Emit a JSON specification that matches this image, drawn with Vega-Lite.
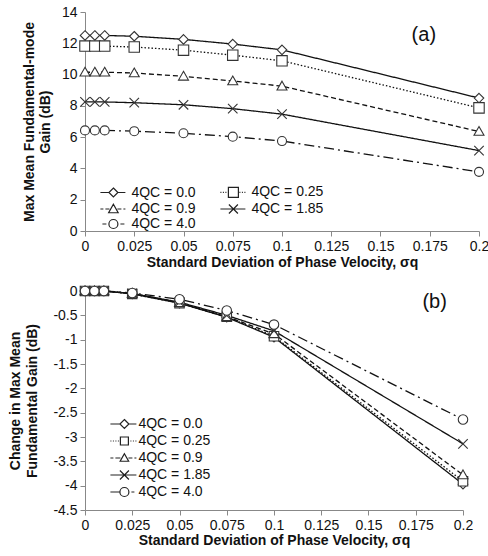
{
  "$schema": "https://vega.github.io/schema/vega-lite/v6.json",
  "padding": {"left": 8, "top": 5, "right": 0, "bottom": 5},
  "config": {
    "font": "Liberation Sans",
    "view": {"stroke": null},
    "axis": {"domainColor": "#888", "tickColor": "#888", "labelColor": "#111", "labelFontSize": 14, "titleFontSize": 14, "titleFontWeight": "bold", "titleColor": "#111", "grid": false, "tickSize": 5, "labelPadding": 3, "labelOverlap": false, "labelFlush": false, "labelBound": false},
    "legend": {"labelFontSize": 14, "labelColor": "#111", "symbolSize": 100, "symbolStrokeWidth": 1.2, "symbolStrokeColor": "#222", "symbolFillColor": "transparent", "padding": 0, "title": null}
  },
  "datasets": {
    "top": [
      {"series": "4QC = 0.0", "x": 0, "y": 12.5}, {"series": "4QC = 0.0", "x": 0.005, "y": 12.5}, {"series": "4QC = 0.0", "x": 0.01, "y": 12.5}, {"series": "4QC = 0.0", "x": 0.025, "y": 12.45}, {"series": "4QC = 0.0", "x": 0.05, "y": 12.25}, {"series": "4QC = 0.0", "x": 0.075, "y": 11.95}, {"series": "4QC = 0.0", "x": 0.1, "y": 11.58}, {"series": "4QC = 0.0", "x": 0.2, "y": 8.5},
      {"series": "4QC = 0.25", "x": 0, "y": 11.82}, {"series": "4QC = 0.25", "x": 0.005, "y": 11.82}, {"series": "4QC = 0.25", "x": 0.01, "y": 11.82}, {"series": "4QC = 0.25", "x": 0.025, "y": 11.76}, {"series": "4QC = 0.25", "x": 0.05, "y": 11.56}, {"series": "4QC = 0.25", "x": 0.075, "y": 11.24}, {"series": "4QC = 0.25", "x": 0.1, "y": 10.88}, {"series": "4QC = 0.25", "x": 0.2, "y": 7.87},
      {"series": "4QC = 0.9", "x": 0, "y": 10.15}, {"series": "4QC = 0.9", "x": 0.005, "y": 10.15}, {"series": "4QC = 0.9", "x": 0.01, "y": 10.15}, {"series": "4QC = 0.9", "x": 0.025, "y": 10.1}, {"series": "4QC = 0.9", "x": 0.05, "y": 9.89}, {"series": "4QC = 0.9", "x": 0.075, "y": 9.59}, {"series": "4QC = 0.9", "x": 0.1, "y": 9.26}, {"series": "4QC = 0.9", "x": 0.2, "y": 6.36},
      {"series": "4QC = 1.85", "x": 0, "y": 8.25}, {"series": "4QC = 1.85", "x": 0.005, "y": 8.25}, {"series": "4QC = 1.85", "x": 0.01, "y": 8.25}, {"series": "4QC = 1.85", "x": 0.025, "y": 8.2}, {"series": "4QC = 1.85", "x": 0.05, "y": 8.07}, {"series": "4QC = 1.85", "x": 0.075, "y": 7.82}, {"series": "4QC = 1.85", "x": 0.1, "y": 7.47}, {"series": "4QC = 1.85", "x": 0.2, "y": 5.14},
      {"series": "4QC = 4.0", "x": 0, "y": 6.43}, {"series": "4QC = 4.0", "x": 0.005, "y": 6.43}, {"series": "4QC = 4.0", "x": 0.01, "y": 6.43}, {"series": "4QC = 4.0", "x": 0.025, "y": 6.38}, {"series": "4QC = 4.0", "x": 0.05, "y": 6.25}, {"series": "4QC = 4.0", "x": 0.075, "y": 6.03}, {"series": "4QC = 4.0", "x": 0.1, "y": 5.75}, {"series": "4QC = 4.0", "x": 0.2, "y": 3.78}
    ],
    "bottom": [
      {"series": "4QC = 0.0", "x": 0, "y": 0}, {"series": "4QC = 0.0", "x": 0.005, "y": 0}, {"series": "4QC = 0.0", "x": 0.01, "y": 0}, {"series": "4QC = 0.0", "x": 0.025, "y": -0.06}, {"series": "4QC = 0.0", "x": 0.05, "y": -0.25}, {"series": "4QC = 0.0", "x": 0.075, "y": -0.54}, {"series": "4QC = 0.0", "x": 0.1, "y": -0.95}, {"series": "4QC = 0.0", "x": 0.2, "y": -3.97},
      {"series": "4QC = 0.25", "x": 0, "y": 0}, {"series": "4QC = 0.25", "x": 0.005, "y": 0}, {"series": "4QC = 0.25", "x": 0.01, "y": 0}, {"series": "4QC = 0.25", "x": 0.025, "y": -0.06}, {"series": "4QC = 0.25", "x": 0.05, "y": -0.25}, {"series": "4QC = 0.25", "x": 0.075, "y": -0.53}, {"series": "4QC = 0.25", "x": 0.1, "y": -0.93}, {"series": "4QC = 0.25", "x": 0.2, "y": -3.91},
      {"series": "4QC = 0.9", "x": 0, "y": 0}, {"series": "4QC = 0.9", "x": 0.005, "y": 0}, {"series": "4QC = 0.9", "x": 0.01, "y": 0}, {"series": "4QC = 0.9", "x": 0.025, "y": -0.05}, {"series": "4QC = 0.9", "x": 0.05, "y": -0.24}, {"series": "4QC = 0.9", "x": 0.075, "y": -0.53}, {"series": "4QC = 0.9", "x": 0.1, "y": -0.88}, {"series": "4QC = 0.9", "x": 0.2, "y": -3.78},
      {"series": "4QC = 1.85", "x": 0, "y": 0}, {"series": "4QC = 1.85", "x": 0.005, "y": 0}, {"series": "4QC = 1.85", "x": 0.01, "y": 0}, {"series": "4QC = 1.85", "x": 0.025, "y": -0.05}, {"series": "4QC = 1.85", "x": 0.05, "y": -0.23}, {"series": "4QC = 1.85", "x": 0.075, "y": -0.5}, {"series": "4QC = 1.85", "x": 0.1, "y": -0.82}, {"series": "4QC = 1.85", "x": 0.2, "y": -3.14},
      {"series": "4QC = 4.0", "x": 0, "y": 0}, {"series": "4QC = 4.0", "x": 0.005, "y": 0}, {"series": "4QC = 4.0", "x": 0.01, "y": 0}, {"series": "4QC = 4.0", "x": 0.025, "y": -0.04}, {"series": "4QC = 4.0", "x": 0.05, "y": -0.17}, {"series": "4QC = 4.0", "x": 0.075, "y": -0.4}, {"series": "4QC = 4.0", "x": 0.1, "y": -0.69}, {"series": "4QC = 4.0", "x": 0.2, "y": -2.64}
    ]
  },
  "spacing": 14,
  "vconcat": [
    {
      "width": 394,
      "height": 219,
      "data": {"name": "top"},
      "layer": [
        {
          "mark": {"type": "line", "color": "#111", "strokeWidth": 1.3},
          "encoding": {
            "x": {"field": "x", "type": "quantitative", "scale": {"domain": [0, 0.2]}, "axis": {"values": [0, 0.025, 0.05, 0.075, 0.1, 0.125, 0.15, 0.175, 0.2], "tickCount": 20, "labelExpr": "'' + datum.value", "labelOverlap": false, "titlePadding": 2, "title": "Standard Deviation of Phase Velocity, σq"}},
            "y": {"field": "y", "type": "quantitative", "scale": {"domain": [0, 14]}, "axis": {"values": [0, 2, 4, 6, 8, 10, 12, 14], "tickCount": 20, "labelExpr": "'' + datum.value", "labelOverlap": false, "title": ["Max Mean Fundamental-mode", "Gain (dB)"], "titleLineHeight": 16, "titlePadding": 9}},
            "detail": {"field": "series"},
            "strokeDash": {"field": "series", "type": "nominal", "scale": {"domain": ["4QC = 0.0", "4QC = 0.25", "4QC = 0.9", "4QC = 1.85", "4QC = 4.0"], "range": [[1, 0], [1.5, 2], [5, 3], [1, 0], [10, 4, 2, 4]]}, "legend": null}
          }
        },
        {
          "mark": {"type": "point", "filled": true, "fill": "white", "stroke": "#333", "strokeWidth": 1.1, "size": 90, "opacity": 1},
          "encoding": {
            "x": {"field": "x", "type": "quantitative"},
            "y": {"field": "y", "type": "quantitative"},
            "shape": {"field": "series", "type": "nominal", "scale": {"domain": ["4QC = 0.0", "4QC = 0.25", "4QC = 0.9", "4QC = 1.85", "4QC = 4.0"], "range": ["M0,-1L1,0L0,1L-1,0Z", "M-1.1,-1.1L1.1,-1.1L1.1,1.1L-1.1,1.1Z", "M0,-1.05L1.05,0.8L-1.05,0.8Z", "M-1,-1L1,1M-1,1L1,-1", "M-0.95,0A0.95,0.95,0,1,1,0.95,0A0.95,0.95,0,1,1,-0.95,0Z"]}, "legend": null}
          }
        },
        {
          "transform": [{"filter": "datum.x < 0"}],
          "mark": {"type": "point", "filled": false, "stroke": "#222", "strokeWidth": 1.2, "opacity": 1},
          "encoding": {
            "x": {"field": "x", "type": "quantitative"},
            "y": {"field": "y", "type": "quantitative"},
            "shape": {"field": "series", "type": "nominal", "scale": {"domain": ["4QC = 0.0", "4QC = 0.9", "4QC = 4.0", "4QC = 0.25", "4QC = 1.85"], "range": [
              "M-2.6,0L-0.9,0M0.9,0L2.4,0M0,-0.9L0.9,0L0,0.9L-0.9,0Z",
              "M-2.6,0L-2,0M-1.6,0L-0.8,0M0.8,0L1.6,0M2,0L2.4,0M0,-0.95L0.95,0.75L-0.95,0.75Z",
              "M-2.2,0L-1.4,0M1.4,0L2.2,0M-0.9,0A0.9,0.9,0,1,1,0.9,0A0.9,0.9,0,1,1,-0.9,0Z",
              "M-2.6,0L-2.4,0M-2.1,0L-1.9,0M-1.6,0L-1.4,0M1.2,0L1.4,0M1.7,0L1.9,0M2.2,0L2.4,0M-1,-1L1,-1L1,1L-1,1Z",
              "M-2.6,0L2.4,0M-0.9,-0.9L0.9,0.9M-0.9,0.9L0.9,-0.9"
            ]}, "legend": {"orient": "none", "legendX": 21.4, "legendY": 173, "columns": 2, "columnPadding": 21, "rowPadding": 1, "labelOffset": 11, "symbolSize": 100, "symbolStrokeColor": "#222", "symbolOpacity": 1}}
          }
        },
        {
          "data": {"values": [{"label": "(a)"}]},
          "mark": {"type": "text", "fontSize": 20, "color": "#111"},
          "encoding": {
            "x": {"datum": 0.172, "type": "quantitative"},
            "y": {"datum": 12.55, "type": "quantitative"},
            "text": {"field": "label"}
          }
        }
      ],
      "resolve": {"scale": {"shape": "independent"}, "legend": {"shape": "independent"}}
    },
    {
      "width": 378,
      "height": 219,
      "data": {"name": "bottom"},
      "layer": [
        {
          "mark": {"type": "line", "color": "#111", "strokeWidth": 1.3},
          "encoding": {
            "x": {"field": "x", "type": "quantitative", "scale": {"domain": [0, 0.2]}, "axis": {"values": [0, 0.025, 0.05, 0.075, 0.1, 0.125, 0.15, 0.175, 0.2], "tickCount": 20, "labelExpr": "'' + datum.value", "labelOverlap": false, "titlePadding": 1, "title": "Standard Deviation of Phase Velocity, σq"}},
            "y": {"field": "y", "type": "quantitative", "scale": {"domain": [-4.5, 0]}, "axis": {"values": [0, -0.5, -1, -1.5, -2, -2.5, -3, -3.5, -4, -4.5], "tickCount": 20, "labelExpr": "'' + datum.value", "labelOverlap": false, "title": ["Change in Max Mean", "Fundamental Gain (dB)"], "titleLineHeight": 17, "titlePadding": 13}},
            "detail": {"field": "series"},
            "strokeDash": {"field": "series", "type": "nominal", "scale": {"domain": ["4QC = 0.0", "4QC = 0.25", "4QC = 0.9", "4QC = 1.85", "4QC = 4.0"], "range": [[1, 0], [1.5, 2], [5, 3], [1, 0], [10, 4, 2, 4]]}, "legend": null}
          }
        },
        {
          "mark": {"type": "point", "filled": true, "fill": "white", "stroke": "#333", "strokeWidth": 1.1, "size": 90, "opacity": 1},
          "encoding": {
            "x": {"field": "x", "type": "quantitative"},
            "y": {"field": "y", "type": "quantitative"},
            "shape": {"field": "series", "type": "nominal", "scale": {"domain": ["4QC = 0.0", "4QC = 0.25", "4QC = 0.9", "4QC = 1.85", "4QC = 4.0"], "range": ["M0,-1L1,0L0,1L-1,0Z", "M-1,-1L1,-1L1,1L-1,1Z", "M0,-1.05L1.05,0.8L-1.05,0.8Z", "M-1,-1L1,1M-1,1L1,-1", "M-1,0A1,1,0,1,1,1,0A1,1,0,1,1,-1,0Z"]}, "legend": null}
          }
        },
        {
          "transform": [{"filter": "datum.x < 0"}],
          "mark": {"type": "point", "filled": false, "stroke": "#222", "strokeWidth": 1.2, "opacity": 1},
          "encoding": {
            "x": {"field": "x", "type": "quantitative"},
            "y": {"field": "y", "type": "quantitative"},
            "shape": {"field": "series", "type": "nominal", "scale": {"domain": ["4QC = 0.0", "4QC = 0.25", "4QC = 0.9", "4QC = 1.85", "4QC = 4.0"], "range": [
              "M-2.8,0L-0.9,0M0.9,0L2.4,0M0,-0.9L0.9,0L0,0.9L-0.9,0Z",
              "M-2.8,0L-2.6,0M-2.3,0L-2.1,0M-1.8,0L-1.6,0M-1.3,0L-1.1,0M1.2,0L1.4,0M1.7,0L1.9,0M2.2,0L2.4,0M-0.8,-0.8L0.8,-0.8L0.8,0.8L-0.8,0.8Z",
              "M-2.8,0L-2.2,0M-1.8,0L-0.8,0M0.8,0L1.6,0M2,0L2.4,0M0,-0.85L0.85,0.65L-0.85,0.65Z",
              "M-2.8,0L2.4,0M-0.9,-0.9L0.9,0.9M-0.9,0.9L0.9,-0.9",
              "M-2.8,0L-0.9,0M1.4,0L2,0M-0.9,0A0.9,0.9,0,1,1,0.9,0A0.9,0.9,0,1,1,-0.9,0Z"
            ]}, "legend": {"orient": "none", "legendX": 32.4, "legendY": 126, "columns": 1, "rowPadding": 3, "labelOffset": 7, "symbolSize": 100, "symbolStrokeColor": "#222", "symbolOpacity": 1}}
          }
        },
        {
          "data": {"values": [{"label": "(b)"}]},
          "mark": {"type": "text", "fontSize": 20, "color": "#111"},
          "encoding": {
            "x": {"datum": 0.185, "type": "quantitative"},
            "y": {"datum": -0.226, "type": "quantitative"},
            "text": {"field": "label"}
          }
        }
      ],
      "resolve": {"scale": {"shape": "independent"}, "legend": {"shape": "independent"}}
    }
  ]
}
